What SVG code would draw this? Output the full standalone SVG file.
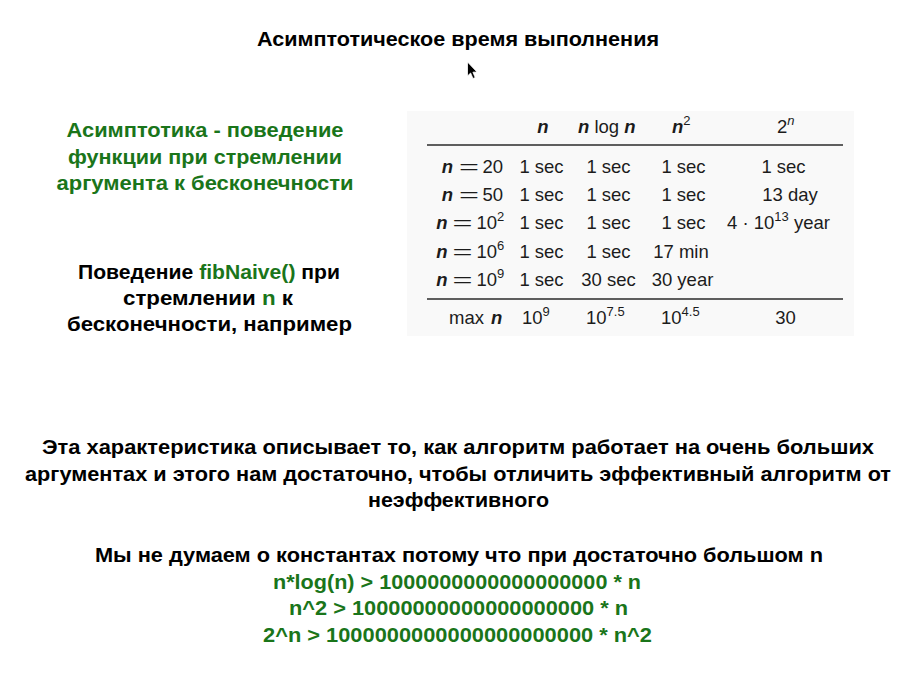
<svg xmlns="http://www.w3.org/2000/svg" width="916" height="678" viewBox="0 0 916 678">
<style>
  .b { font-family: "Liberation Sans", Arial, "Noto Sans", sans-serif; font-weight: bold; font-size: 20px; fill: #000; }
  .g { fill: #1a751a; }
  .c { text-anchor: middle; }
  .t { font-family: "Liberation Sans", Arial, sans-serif; font-size: 18.5px; fill: #1c1c1c; }
  .i { font-style: italic; font-weight: bold; }
  .si { font-style: italic; }
  .s { font-size: 13px; }
  .e { text-anchor: end; }
  .rule { stroke: #2a2a2a; stroke-width: 1.4; }
</style>
<rect x="0" y="0" width="916" height="678" fill="#ffffff"/>

<g id="title">
  <text class="b c" x="458" y="46" textLength="402" lengthAdjust="spacingAndGlyphs">Асимптотическое время выполнения</text>
</g>

<g id="cursor">
  <polygon points="467.5,62 467.5,76 470.6,73 473,78.5 475.2,77.5 472.9,72.2 477,72" fill="#000" stroke="#fff" stroke-width="0.8" stroke-linejoin="round"/>
</g>

<g id="definition">
  <text class="b g c" x="205" y="137" textLength="277" lengthAdjust="spacingAndGlyphs">Асимптотика - поведение</text>
  <text class="b g c" x="205" y="163.5" textLength="274" lengthAdjust="spacingAndGlyphs">функции при стремлении</text>
  <text class="b g c" x="205" y="190" textLength="297" lengthAdjust="spacingAndGlyphs">аргумента к бесконечности</text>
</g>

<g id="example">
  <text class="b c" x="209" y="278.5" textLength="262" lengthAdjust="spacingAndGlyphs">Поведение <tspan class="g">fibNaive()</tspan> при</text>
  <text class="b c" x="208" y="304.5" textLength="170" lengthAdjust="spacingAndGlyphs">стремлении <tspan class="g">n</tspan> к</text>
  <text class="b c" x="209.5" y="330.5" textLength="285" lengthAdjust="spacingAndGlyphs">бесконечности, например</text>
</g>

<g id="table">
  <rect x="407" y="111" width="447" height="225" fill="#f9f9f9"/>
  <line class="rule" x1="427" y1="145" x2="843" y2="145"/>
  <line class="rule" x1="427" y1="299" x2="843" y2="299"/>

  <!-- header -->
  <text class="t i c" x="543" y="133">n</text>
  <text class="t" x="578" y="133"><tspan class="i">n</tspan> log <tspan class="i">n</tspan></text>
  <text class="t" x="672" y="133"><tspan class="i">n</tspan><tspan class="s" dy="-8">2</tspan></text>
  <text class="t" x="777" y="133">2<tspan class="s si" dy="-8">n</tspan></text>

  <!-- row labels -->
  <text class="t i c" x="447.5" y="172.5">n</text>
  <text class="t" x="459" y="172.5" textLength="20" lengthAdjust="spacingAndGlyphs">=</text>
  <text class="t e" x="503" y="172.5">20</text>

  <text class="t i c" x="447.5" y="201">n</text>
  <text class="t" x="459" y="201" textLength="20" lengthAdjust="spacingAndGlyphs">=</text>
  <text class="t e" x="503" y="201">50</text>

  <text class="t i c" x="442" y="229">n</text>
  <text class="t" x="452.5" y="229" textLength="20" lengthAdjust="spacingAndGlyphs">=</text>
  <text class="t" x="476.5" y="229">10<tspan class="s" dy="-8">2</tspan></text>

  <text class="t i c" x="442" y="257.5">n</text>
  <text class="t" x="452.5" y="257.5" textLength="20" lengthAdjust="spacingAndGlyphs">=</text>
  <text class="t" x="476.5" y="257.5">10<tspan class="s" dy="-8">6</tspan></text>

  <text class="t i c" x="442" y="286">n</text>
  <text class="t" x="452.5" y="286" textLength="20" lengthAdjust="spacingAndGlyphs">=</text>
  <text class="t" x="476.5" y="286">10<tspan class="s" dy="-8">9</tspan></text>

  <text class="t" x="449" y="324">max</text>
  <text class="t i" x="491" y="324">n</text>

  <!-- column n -->
  <text class="t c" x="541.5" y="172.5">1 sec</text>
  <text class="t c" x="541.5" y="201">1 sec</text>
  <text class="t c" x="541.5" y="229">1 sec</text>
  <text class="t c" x="541.5" y="257.5">1 sec</text>
  <text class="t c" x="541.5" y="286">1 sec</text>
  <text class="t" x="522" y="324">10<tspan class="s" dy="-8">9</tspan></text>

  <!-- column n log n -->
  <text class="t c" x="608.5" y="172.5">1 sec</text>
  <text class="t c" x="608.5" y="201">1 sec</text>
  <text class="t c" x="608.5" y="229">1 sec</text>
  <text class="t c" x="608.5" y="257.5">1 sec</text>
  <text class="t c" x="608.5" y="286">30 sec</text>
  <text class="t" x="586" y="324">10<tspan class="s" dy="-8">7.5</tspan></text>

  <!-- column n^2 -->
  <text class="t c" x="683.5" y="172.5">1 sec</text>
  <text class="t c" x="683.5" y="201">1 sec</text>
  <text class="t c" x="683.5" y="229">1 sec</text>
  <text class="t c" x="681" y="257.5">17 min</text>
  <text class="t c" x="682.5" y="286">30 year</text>
  <text class="t" x="661" y="324">10<tspan class="s" dy="-8">4.5</tspan></text>

  <!-- column 2^n -->
  <text class="t c" x="783.5" y="172.5">1 sec</text>
  <text class="t c" x="790" y="201">13 day</text>
  <text class="t" x="727" y="229">4 · 10<tspan class="s" dy="-8">13</tspan><tspan dy="8"> year</tspan></text>
  <text class="t c" x="785.5" y="324">30</text>
</g>

<g id="explanation">
  <text class="b c" x="458" y="454" textLength="832" lengthAdjust="spacingAndGlyphs">Эта характеристика описывает то, как алгоритм работает на очень больших</text>
  <text class="b c" x="458" y="480.5" textLength="866" lengthAdjust="spacingAndGlyphs">аргументах и этого нам достаточно, чтобы отличить эффективный алгоритм от</text>
  <text class="b c" x="458.5" y="507" textLength="181" lengthAdjust="spacingAndGlyphs">неэффективного</text>
</g>

<g id="constants">
  <text class="b c" x="459" y="561.5" textLength="728" lengthAdjust="spacingAndGlyphs">Мы не думаем о константах потому что при достаточно большом n</text>
  <text class="b g c" x="457" y="588.5" textLength="368" lengthAdjust="spacingAndGlyphs">n*log(n) &gt; 1000000000000000000 * n</text>
  <text class="b g c" x="458.5" y="615" textLength="339" lengthAdjust="spacingAndGlyphs">n^2 &gt; 10000000000000000000 * n</text>
  <text class="b g c" x="457.5" y="642" textLength="389" lengthAdjust="spacingAndGlyphs">2^n &gt; 1000000000000000000000 * n^2</text>
</g>
</svg>
